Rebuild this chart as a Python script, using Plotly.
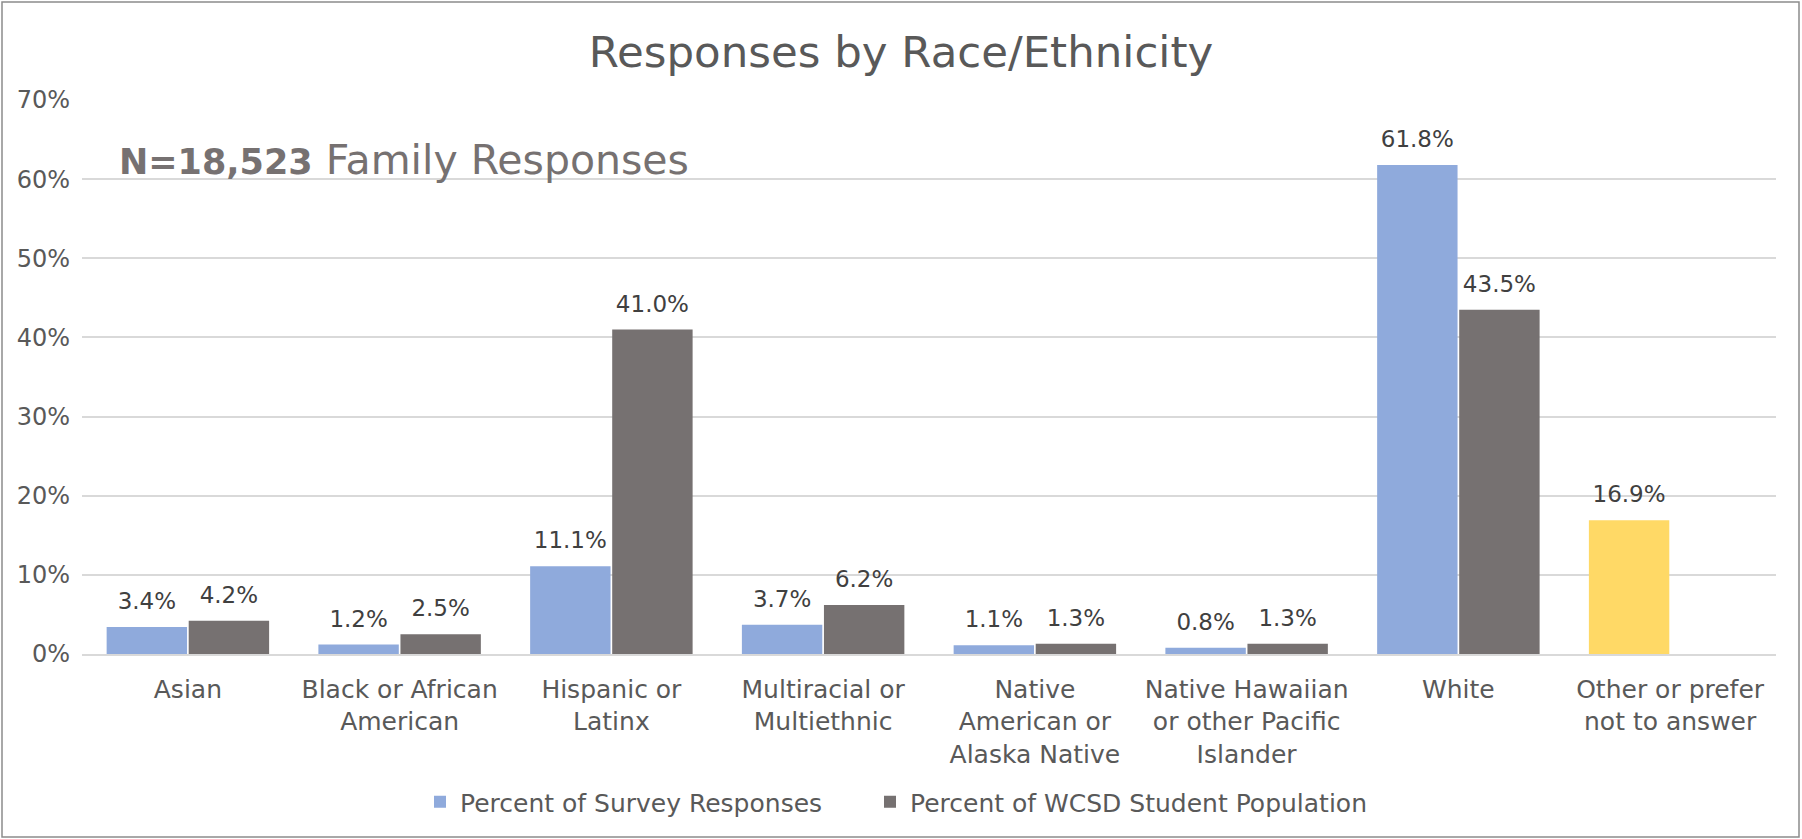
import plotly.graph_objects as go

categories = [
    "Asian",
    "Black or African<br>American",
    "Hispanic or<br>Latinx",
    "Multiracial or<br>Multiethnic",
    "Native<br>American or<br>Alaska Native",
    "Native Hawaiian<br>or other Pacific<br>Islander",
    "White",
    "Other or prefer<br>not to answer",
]
survey_pct = [3.4, 1.2, 11.1, 3.7, 1.1, 0.8, 61.8, 16.9]
wcsd_pct = [4.2, 2.5, 41.0, 6.2, 1.3, 1.3, 43.5, None]
y_ticks = [0, 10, 20, 30, 40, 50, 60, 70]
y_tick_labels = ["0%", "10%", "20%", "30%", "40%", "50%", "60%", "70%"]

BLUE = "#8FAADC"
GRAY = "#767171"
YELLOW = "#FFD966"
TXT = "#595959"
LBL = "#404040"
FONT = "DejaVu Sans"

survey_colors = [BLUE] * 7 + [YELLOW]

W, H = 1802, 839
L, R, T, B = 82, 26, 100, 185
pw = W - L - R
ph = H - T - B

fig = go.Figure()
fig.add_trace(go.Bar(
    x=categories, y=survey_pct, name="Percent of Survey Responses",
    offsetgroup="s", marker=dict(color=survey_colors, line=dict(width=0)),
    hoverinfo="skip", legend="legend",
))
fig.add_trace(go.Bar(
    x=categories, y=wcsd_pct, name="Percent of WCSD Student Population",
    offsetgroup="w", marker=dict(color=GRAY, line=dict(width=0)),
    hoverinfo="skip", legend="legend2",
))
# data labels, grouped like the bars
for vals, grp in ((survey_pct, "s"), (wcsd_pct, "w")):
    fig.add_trace(go.Scatter(
        x=categories, y=vals, offsetgroup=grp, mode="markers+text",
        marker=dict(size=18, opacity=0),
        text=[("" if v is None else f"{v:.1f}%") for v in vals],
        textposition="top center",
        textfont=dict(family=FONT, size=23, color=LBL),
        showlegend=False, hoverinfo="skip", cliponaxis=False,
    ))

legend_common = dict(orientation="h", xanchor="left", yanchor="middle",
                     y=(654 - 802) / ph,
                     font=dict(family=FONT, size=25, color=TXT),
                     bgcolor="rgba(0,0,0,0)")

fig.update_layout(
    width=W, height=H,
    margin=dict(l=L, r=R, t=T, b=B, pad=0),
    paper_bgcolor="white", plot_bgcolor="white",
    barmode="group", bargap=0.225, bargroupgap=0.02,
    scattermode="group", scattergap=0.225,
    font=dict(family=FONT, color=TXT),
    title=dict(text="Responses by Race/Ethnicity", x=0.5, xanchor="center",
               y=1 - 52 / H, yanchor="middle", yref="container",
               font=dict(family=FONT, size=43.5, color=TXT)),
    showlegend=True,
    legend=dict(x=(420 - L) / pw, **legend_common),
    legend2=dict(x=(870 - L) / pw, **legend_common),
    xaxis=dict(showgrid=False, showline=True, linecolor="#D9D9D9", linewidth=1.5,
               ticks="", tickfont=dict(family=FONT, size=25, color=TXT),
               ticklabelstandoff=12),
    yaxis=dict(range=[0, 70], tickvals=y_ticks, ticktext=y_tick_labels,
               showgrid=True, gridcolor="#D9D9D9", gridwidth=1.5,
               zeroline=False, showline=False, ticks="",
               tickfont=dict(family=FONT, size=24, color=TXT),
               ticklabelstandoff=11),
    annotations=[dict(
        text="<b><span style='font-size:35px'>N=18,523</span></b> Family Responses",
        xref="paper", yref="y",
        x=(117 - L) / pw, y=(654 - 161) / 79.0 * 10, xanchor="left", yanchor="middle",
        showarrow=False, font=dict(family=FONT, size=41, color="#767171"),
    )],
    shapes=[dict(
        type="rect", xref="paper", yref="paper",
        x0=(2 - L) / pw, x1=(1799 - L) / pw,
        y0=(654 - 837) / ph, y1=(654 - 2) / ph,
        line=dict(color="#8C8C8C", width=1.5), fillcolor="rgba(0,0,0,0)", layer="below",
    )],
)

fig.write_html("out.html", config={"displayModeBar": False},
               post_script="document.body.style.margin='0';")
